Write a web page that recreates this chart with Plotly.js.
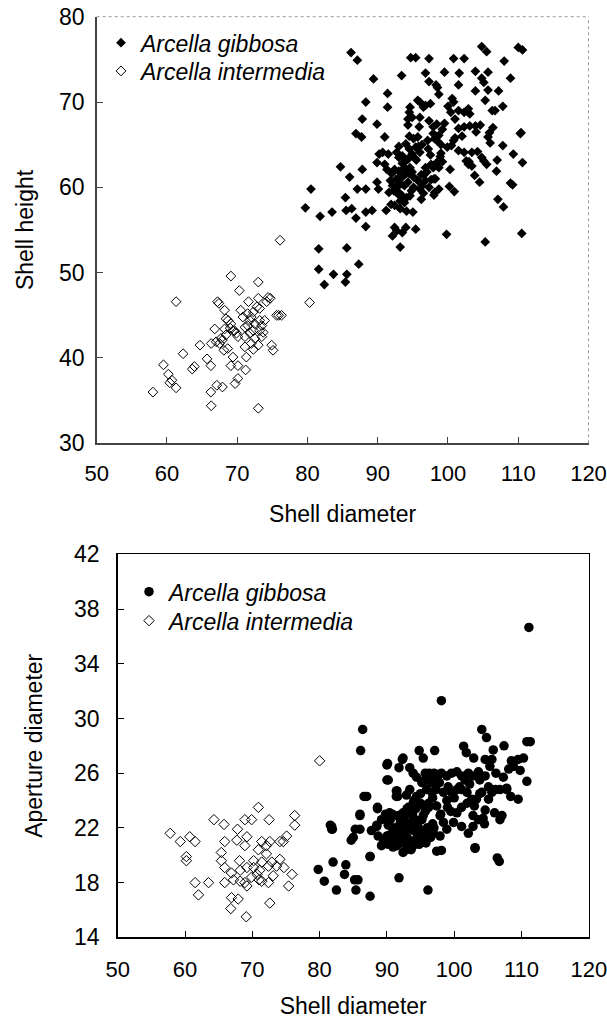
<!DOCTYPE html>
<html>
<head>
<meta charset="utf-8">
<script src="https://cdn.plot.ly/plotly-3.0.1.min.js"></script>
<style>html,body{margin:0;padding:0;background:#fff;}#chart{width:607px;height:1021px;}</style>
</head>
<body>
<div id="chart"></div>
<script>
// ---------- Data: top panel (Shell diameter vs Shell height) ----------
var topIntermediaX = [58.0,59.5,60.2,60.4,60.7,61.3,61.3,62.3,63.6,63.9,64.7,65.7,66.25,66.3,66.25,66.3,66.8,67.1,67.2,67.4,67.5,67.9,68.2,68.4,68.1,67.9,68.65,69.1,69.1,69.1,69.4,69.6,69.7,70.1,70.1,70.3,70.5,70.8,71.1,71.2,71.3,71.6,71.8,72.0,72.3,72.5,73.0,73.0,73.2,73.0,73.0,73.5,73.9,74.2,74.4,74.7,74.9,75.1,75.9,76.3,75.6,71.1,71.5,72.0,72.3,72.8,73.2,73.7,73.5,70.1,69.9,69.4,68.4,67.7,67.0,68.2,68.7,71.5,72.5,73.2,71.8,71.1,80.3,76.1,72.3,69.0];
var topIntermediaY = [36.0,39.2,38.1,37.1,37.4,36.5,46.6,40.5,38.7,39.0,41.5,39.9,39.1,41.7,36.0,34.4,43.4,36.8,46.6,46.4,41.7,36.6,45.6,44.6,40.9,42.1,41.1,49.6,44.0,39.1,40.1,43.2,37.0,37.6,39.1,47.9,45.6,44.8,42.5,38.6,40.1,46.6,44.4,41.7,43.2,42.3,48.9,47.0,45.8,41.5,34.1,43.8,44.4,46.6,47.1,47.0,41.5,40.9,45.0,45.0,45.0,43.6,43.8,44.8,45.4,46.0,43.2,43.0,42.5,42.5,42.9,43.2,42.7,42.3,41.9,43.4,44.4,45.2,44.0,44.4,42.9,41.3,46.5,53.8,41.0,43.5];

var topGibbosaX = [86.2,87.1,94.7,95.4,97.3,100.8,102.3,104.8,105.5,110.0,110.6,108.0,103.9,105.7,108.9,99.5,101.6,96.8,93.4,89.4,97.3,98.3,98.5,101.5,104.8,105.1,105.7,103.9,107.2,91.4,98.7,95.7,100.6,100.8,105.3,107.8,88.3,91.4,94.6,94.5,96.8,96.5,106.7,106.3,100.4,101.5,102.3,102.9,103.1,94.3,94.3,96.0,95.9,87.8,89.9,97.9,98.4,99.5,101.5,102.3,103.1,103.9,104.6,106.4,105.9,105.7,106.0,110.4,86.9,87.7,91.0,95.7,97.9,98.1,98.7,98.4,100.8,100.5,99.9,101.5,102.3,103.4,104.2,104.8,105.1,105.5,107.0,109.3,110.6,106.9,104.5,108.9,109.2,107.1,107.9,110.3,107.8,110.5,105.3,99.8,100.9,100.3,102.6,102.9,99.0,98.9,98.4,97.6,97.9,98.7,97.0,96.8,97.3,98.1,98.7,97.6,96.0,95.4,94.5,94.0,94.9,93.5,93.0,92.7,91.5,90.7,89.9,90.2,91.0,91.3,92.0,92.4,93.0,93.8,94.0,94.6,94.9,95.1,95.7,96.3,96.0,95.1,94.3,93.8,93.3,92.7,92.1,91.6,92.3,93.0,93.5,94.1,93.2,93.8,92.4,94.1,95.0,94.5,94.0,97.1,97.3,94.9,89.9,90.1,88.3,87.1,86.0,84.7,87.8,85.4,85.5,86.3,86.9,88.3,89.2,91.2,93.2,83.5,81.8,80.5,79.7,88.3,92.4,92.7,92.1,93.5,94.0,95.4,93.2,81.6,85.6,87.3,81.6,83.7,85.6,85.4,82.4,94.6,98.0,96.8,95.1,94.3,103.4,92.6,93.6,95.3,96.6,98.2,99.2,100.2,101.0,103.8,96.2,92.9,91.9,93.5,94.2,95.5,96.2,97.5,92.8,94.8,96.5,91.8,95.8,97.2,99.2,98.0,93.0,94.5,96.3,101.0,102.0,104.0,103.0,99.0,100.0,96.0,97.5];
var topGibbosaY = [75.8,74.9,75.2,75.2,75.1,75.1,75.1,76.5,75.9,76.4,76.1,74.8,73.6,73.5,72.8,73.5,73.4,73.4,73.1,72.7,72.4,72.0,71.7,72.0,72.8,72.3,71.4,71.3,71.3,71.0,70.9,70.2,70.4,70.0,70.2,69.5,70.0,69.4,69.4,68.8,69.6,69.4,69.0,69.0,68.8,69.0,68.8,69.2,68.6,68.0,67.3,68.2,67.1,68.0,67.4,67.1,67.4,67.5,66.9,67.1,67.2,67.2,67.3,67.0,66.4,65.9,65.2,66.4,66.3,65.9,65.9,65.9,66.3,65.7,66.1,65.5,65.5,64.9,64.7,64.3,64.1,64.1,64.2,63.5,63.1,62.7,63.2,63.9,62.9,61.9,60.6,60.5,60.3,58.6,57.7,66.3,64.9,54.6,53.6,54.5,59.5,62.1,63.1,62.7,64.0,63.6,62.9,62.7,62.3,62.3,61.8,60.8,60.0,59.4,59.8,60.9,64.1,64.7,64.5,65.1,63.9,63.7,63.5,64.1,63.9,64.1,62.9,63.9,62.7,62.1,61.6,62.1,61.9,62.3,61.6,62.3,61.8,61.2,60.8,60.2,59.8,60.0,60.6,60.2,60.4,60.0,60.2,59.4,59.6,59.4,59.0,58.8,58.4,58.2,57.9,57.2,57.1,61.6,63.1,65.5,67.8,68.2,60.6,59.8,59.8,59.8,61.2,62.4,62.1,58.8,57.3,57.5,56.4,57.1,57.3,57.3,57.5,57.1,56.6,59.8,57.6,55.4,55.3,54.9,54.3,54.7,55.3,55.1,53.0,52.8,52.9,51.0,50.4,49.8,49.8,48.9,48.6,59.0,59.1,62.3,65.7,63.3,62.5,60.9,61.3,63.4,61.5,61.0,63.0,60.1,65.8,61.4,58.6,59.2,58.0,62.8,62.0,63.2,61.5,63.8,61.0,59.6,59.3,60.8,64.8,64.5,66.8,61.0,64.8,66.0,65.0,68.0,66.0,66.5,63.0,65.0,69.5,70.0,69.8];

// ---------- Data: bottom panel (Shell diameter vs Aperture diameter) ----------
var botIntermediaX = [57.8,59.3,60.7,61.5,60.2,60.2,61.5,63.5,62.0,64.3,65.8,67.8,68.9,69.9,70.9,72.5,76.3,76.3,65.9,67.7,69.2,68.9,71.4,72.6,74.1,74.6,75.1,70.9,72.1,65.4,65.4,68.1,70.2,71.4,72.9,74.1,65.9,66.9,68.2,69.2,70.2,71.1,72.4,73.6,74.7,75.9,65.9,67.2,68.2,68.9,69.9,70.7,71.4,72.4,69.2,66.9,67.9,72.6,75.4,72.1,66.8,69.1,80.0,73.1,71.0];
var botIntermediaY = [21.6,21.0,21.35,21.0,19.9,19.6,18.0,18.0,17.1,22.6,22.25,21.9,22.6,22.6,23.5,22.6,22.9,22.2,21.0,21.1,21.35,20.7,21.0,21.0,21.0,21.0,21.4,20.4,20.1,20.2,19.6,19.6,19.6,19.5,19.5,19.7,19.1,18.7,18.9,19.1,19.1,18.9,19.2,19.2,19.1,18.6,18.0,18.2,18.1,18.0,18.4,18.6,18.1,18.0,17.75,16.9,16.8,16.5,17.75,20.7,16.1,15.5,26.9,18.5,18.2];

var botGibbosaX = [111.1,98.1,86.4,86.1,104.1,104.8,110.8,111.3,97.1,94.8,95.4,101.4,101.8,102.9,105.8,107.4,105.6,104.6,108.5,109.5,110.3,108.8,108.1,110.8,107.3,107.8,108.4,109.5,106.8,107.1,106.8,103.1,106.4,97.4,98.1,90.1,92.4,90.2,87.0,88.6,91.5,91.6,86.0,85.3,81.8,81.9,85.0,87.5,90.0,90.2,91.5,93.2,94.4,93.9,92.9,94.2,95.4,96.2,96.7,95.9,95.2,94.4,93.9,93.4,95.7,96.4,97.1,97.6,98.1,98.9,99.6,100.4,101.1,101.6,102.1,102.8,103.6,103.8,104.6,105.1,105.6,106.1,105.1,104.1,103.3,102.6,101.9,101.1,100.4,98.9,99.6,100.4,101.1,101.9,102.8,103.6,104.3,102.8,102.1,101.1,99.9,98.4,98.9,97.9,96.9,95.9,95.2,93.9,92.4,90.7,89.2,88.7,88.5,87.7,90.5,91.7,92.4,93.2,93.9,94.4,92.9,93.4,97.9,97.4,98.4,99.1,79.8,80.7,82.0,82.5,83.9,83.7,85.2,85.4,87.5,85.7,87.5,91.8,96.1,106.7,103.1,81.6,81.8,86.0,86.0,84.7,86.6,88.6,90.0,90.0,92.3,91.8,91.4,91.4,90.4,90.9,92.9,93.5,92.5,93.0,93.5,94.0,94.5,93.2,92.0,91.5,94.8,95.5,96.0,93.8,94.3,95.0,95.6,96.3,96.5,97.0,97.5,92.7,91.2,90.5,89.5,89.2,88.5,90.8,92.2,93.6,94.6,95.8,93.0,94.2,92.0,95.2,96.8,99.5,100.8,103.0,104.5,106.0,107.8,109.8,92.0,92.8,93.3,93.8,94.2,94.7,95.2,95.7,96.2,96.8,97.3,97.8,95.0,94.0,93.0,92.5,91.8,91.0,90.2,89.8,93.8,94.9,96.5,97.0,98.0,99.0,100.0,100.8,102.3,103.8,104.6,105.3,106.2];
var botGibbosaY = [36.65,31.3,29.2,27.65,29.2,28.6,28.3,28.3,27.65,27.65,27.1,27.97,27.5,27.1,27.7,28.0,27.0,27.0,26.9,27.0,27.1,26.5,26.3,25.4,25.7,24.8,24.3,24.1,24.8,22.9,22.6,20.55,19.8,20.3,20.35,26.7,27.1,25.5,24.3,23.5,24.7,24.3,22.9,21.9,22.1,21.9,21.3,19.9,21.4,20.8,20.7,20.7,21.2,21.9,22.3,22.5,22.9,23.8,24.6,24.8,25.3,25.7,26.0,26.4,26.0,25.8,25.5,25.9,26.0,25.8,26.0,26.1,25.8,25.5,26.0,25.8,26.1,25.5,25.8,25.0,24.6,24.8,24.1,24.6,24.1,24.1,23.8,23.5,23.1,24.0,24.6,24.8,24.8,24.6,22.9,22.6,22.7,22.1,21.6,22.1,22.4,22.4,21.9,21.4,21.6,21.9,21.2,20.7,20.2,21.0,20.7,21.4,22.1,21.8,22.6,22.9,23.1,23.5,23.8,24.3,24.4,24.8,22.9,23.6,24.6,25.0,18.96,18.1,19.5,17.45,19.3,18.6,18.2,17.45,17.0,18.2,19.9,18.35,17.45,19.55,20.5,22.2,21.9,23.0,21.9,21.1,24.3,23.4,26.6,25.5,27.0,26.4,24.7,24.3,23.1,20.6,20.4,20.9,21.5,22.0,21.0,21.8,22.3,20.6,22.4,21.2,20.8,21.5,22.0,23.0,23.4,24.5,25.5,26.0,25.3,26.0,25.7,22.9,22.0,21.5,21.0,22.6,22.2,23.0,20.9,20.4,21.5,20.9,21.3,22.6,21.7,23.7,22.3,23.2,24.9,23.6,22.3,23.1,24.9,26.2,21.8,21.3,21.9,22.5,21.1,22.0,22.6,23.2,23.5,24.2,24.8,25.3,23.8,24.0,23.4,22.5,22.8,21.8,22.2,23.0,20.9,21.6,21.3,22.0,23.0,23.5,24.2,25.0,25.2,24.5,23.3,26.5,26.0];

var xTicks = [50,60,70,80,90,100,110,120];
var topYTicks = [30,40,50,60,70,80];
var botYTicks = [14,18,22,26,30,34,38,42];

var nameGib = '<i>Arcella gibbosa</i>';
var nameInt = '<i>Arcella intermedia</i>';

var FONT = 'Liberation Sans, Arial, sans-serif';
var FS = 23;
var TFS = 22;

var traces = [
  {x: topGibbosaX, y: topGibbosaY, type: 'scatter', mode: 'markers', name: nameGib,
   xaxis: 'x', yaxis: 'y', legend: 'legend',
   marker: {symbol: 'diamond', size: 7.5, color: '#000', line: {width: 0}}},
  {x: topIntermediaX, y: topIntermediaY, type: 'scatter', mode: 'markers', name: nameInt,
   xaxis: 'x', yaxis: 'y', legend: 'legend2',
   marker: {symbol: 'diamond-open', size: 7.5, color: '#000', line: {width: 1, color: '#000'}}},
  {x: botGibbosaX, y: botGibbosaY, type: 'scatter', mode: 'markers', name: nameGib,
   xaxis: 'x2', yaxis: 'y2', legend: 'legend3',
   marker: {symbol: 'circle', size: 9.5, color: '#000', line: {width: 0}}},
  {x: botIntermediaX, y: botIntermediaY, type: 'scatter', mode: 'markers', name: nameInt,
   xaxis: 'x2', yaxis: 'y2', legend: 'legend4',
   marker: {symbol: 'diamond-open', size: 8, color: '#000', line: {width: 1, color: '#000'}}}
];

function legendAt(xp, yp) {
  return {x: xp, y: yp, xanchor: 'left', yanchor: 'middle', bgcolor: 'rgba(0,0,0,0)',
          borderwidth: 0, font: {family: FONT, size: FS, color: '#000'}, itemclick: false};
}

var W = 607, H = 1021;
var layout = {
  width: W, height: H,
  margin: {l: 0, r: 0, t: 0, b: 0},
  paper_bgcolor: '#fff', plot_bgcolor: '#fff',
  font: {family: FONT, size: FS, color: '#000'},
  showlegend: true,
  xaxis: {domain: [96.7/W, 588.5/W], anchor: 'y', range: [50, 120], tickvals: xTicks,
          showgrid: false, zeroline: false, showline: true, linecolor: '#444', linewidth: 1.5,
          ticks: 'inside', ticklen: 6, tickcolor: '#444', tickwidth: 1, ticklabeloverflow: 'allow',
          tickfont: {family: FONT, size: TFS, color: '#000'}, ticklabelstandoff: 10,
          title: {text: 'Shell diameter', font: {family: FONT, size: FS, color: '#000'}, standoff: 20}},
  yaxis: {domain: [1 - 443.3/H, 1 - 16.7/H], anchor: 'x', range: [30, 80], tickvals: topYTicks,
          showgrid: false, zeroline: false, showline: true, linecolor: '#444', linewidth: 1.5,
          ticks: 'inside', ticklen: 6, tickcolor: '#444', tickwidth: 1, ticklabeloverflow: 'allow',
          tickfont: {family: FONT, size: FS, color: '#000'}, ticklabelstandoff: 6,
          title: {text: 'Shell height', font: {family: FONT, size: FS, color: '#000'}, standoff: 19}},
  xaxis2: {domain: [117.7/W, 588.8/W], anchor: 'y2', range: [50, 120], tickvals: xTicks,
          showgrid: false, zeroline: false, showline: true, mirror: true, linecolor: '#000', linewidth: 1.5,
          ticks: 'inside', ticklen: 6, tickcolor: '#000', tickwidth: 1, ticklabeloverflow: 'allow',
          tickfont: {family: FONT, size: TFS, color: '#000'}, ticklabelstandoff: 12,
          title: {text: 'Shell diameter', font: {family: FONT, size: FS, color: '#000'}, standoff: 16}},
  yaxis2: {domain: [1 - 937.3/H, 1 - 554.3/H], anchor: 'x2', range: [14, 42], tickvals: botYTicks,
          showgrid: false, zeroline: false, showline: true, mirror: true, linecolor: '#000', linewidth: 1.5,
          ticks: 'inside', ticklen: 6, tickcolor: '#000', tickwidth: 1, ticklabeloverflow: 'allow',
          tickfont: {family: FONT, size: FS, color: '#000'}, ticklabelstandoff: 12,
          title: {text: 'Aperture diameter', font: {family: FONT, size: FS, color: '#000'}, standoff: 25}},
  legend: legendAt(101/W, 1 - 42.7/H),
  legend2: legendAt(101/W, 1 - 71/H),
  legend3: legendAt(129/W, 1 - 591.7/H),
  legend4: legendAt(129/W, 1 - 620.7/H),
  shapes: [
    {type: 'line', xref: 'x domain', yref: 'y domain', x0: 1, x1: 1, y0: 0, y1: 1,
     line: {color: '#999', width: 1, dash: 'dot'}},
    {type: 'line', xref: 'x domain', yref: 'y domain', x0: 0, x1: 1, y0: 1, y1: 1,
     line: {color: '#999', width: 1, dash: 'dot'}}
  ]
};

Plotly.newPlot('chart', traces, layout, {displayModeBar: false, staticPlot: true});
</script>
</body>
</html>
